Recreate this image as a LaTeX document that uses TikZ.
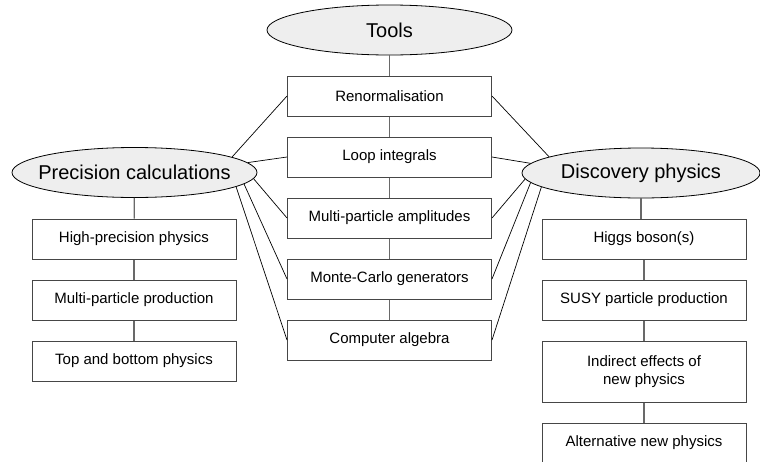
\documentclass[tikz,border=0pt]{standalone}
\usepackage{fontspec}
\setmainfont{Liberation Sans}
\usepackage{tikz}
\usetikzlibrary{shapes.geometric, positioning}
\definecolor{TopicFill}{RGB}{238,238,238}
\definecolor{BoxLine}{RGB}{70,70,70}
\definecolor{StemLine}{RGB}{105,105,105}
\tikzstyle{topic} = [ellipse, draw=black, fill=TopicFill, line width=0.8pt, minimum width=245pt, minimum height=50pt, inner xsep=-30pt, inner ysep=0pt, font=\fontsize{20}{24}\selectfont]
\tikzstyle{itembox} = [rectangle, draw=BoxLine, line width=1pt, minimum width=204pt, minimum height=40pt, inner sep=0pt, align=center, font=\fontsize{15}{18}\selectfont]
\tikzstyle{stem} = [StemLine, line width=1.3pt]
\tikzstyle{link} = [black, line width=0.7pt]

\begin{document}
\begin{tikzpicture}[x=1pt,y=-1pt]
  \useasboundingbox (0,0) rectangle (760,461);

  % Topics
  \node[topic] (tools) at (389.5,30)  {Tools};
  \node[topic] (prec)  at (134.5,172.5) {Precision calculations};
  \node[topic, minimum width=238pt] (disc) at (641,173) {Discovery physics};

  % Tools column
  \node[itembox] (renorm) at (389.5,96)  {Renormalisation};
  \node[itembox] (loop)   at (389.5,157) {Loop integrals};
  \node[itembox] (ampl)   at (389.5,218) {Multi-particle amplitudes};
  \node[itembox] (mcgen)  at (389.5,279) {Monte-Carlo generators};
  \node[itembox] (compal) at (389.5,340) {Computer algebra};

  % Precision column
  \node[itembox] (hiprec) at (134,239) {High-precision physics};
  \node[itembox] (multi)  at (134,300) {Multi-particle production};
  \node[itembox] (topbot) at (134,361) {Top and bottom physics};

  % Discovery column
  \node[itembox] (higgs)  at (644,239)   {Higgs boson(s)};
  \node[itembox] (susy)   at (644,300)   {SUSY particle production};
  \node[itembox, minimum height=61pt] (indir) at (644,371.5) {Indirect effects of\\new physics};
  \node[itembox] (altnew) at (644,443)   {Alternative new physics};

  % Stems
  \draw[stem] (tools) -- (renorm);
  \draw[stem] (renorm) -- (loop);
  \draw[stem] (loop) -- (ampl);
  \draw[stem] (ampl) -- (mcgen);
  \draw[stem] (mcgen) -- (compal);
  \draw[stem] (prec) -- (hiprec);
  \draw[stem] (hiprec) -- (multi);
  \draw[stem] (multi) -- (topbot);
  \draw[stem] (disc.south) -- (disc.south |- higgs.north);
  \draw[stem] (higgs) -- (susy);
  \draw[stem] (susy) -- (indir);
  \draw[stem] (indir) -- (altnew);

  % Links to the tools
  \draw[link] (prec.9)  -- (renorm.west);
  \draw[link] (prec.5)  -- (loop.west);
  \draw[link] (prec.-3) -- (ampl.west);
  \draw[link] (prec.-6) -- (mcgen.west);
  \draw[link] (prec.-8) -- (compal.west);
  \draw[link] (disc.170) -- (renorm.east);
  \draw[link] (disc.175) -- (loop.east);
  \draw[link] (disc.183) -- (ampl.east);
  \draw[link] (disc.185) -- (mcgen.east);
  \draw[link] (disc.188) -- (compal.east);
\end{tikzpicture}
\end{document}
